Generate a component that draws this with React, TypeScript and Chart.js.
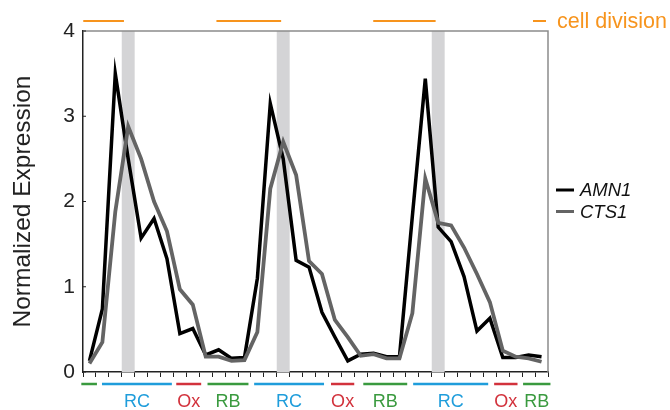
import React, { useEffect, useRef } from 'react';
import { Chart, registerables } from 'chart.js';

Chart.register(...registerables);

// ---- data ----
const timePoints = [
  '1', '2', '3', '4', '5', '6', '7', '8', '9', '10', '11', '12',
  '13', '14', '15', '16', '17', '18', '19', '20', '21', '22', '23', '24',
  '25', '26', '27', '28', '29', '30', '31', '32', '33', '34', '35', '36',
];
const amn1 = [
  0.13, 0.74, 3.5, 2.5, 1.57, 1.8, 1.33, 0.45, 0.51, 0.2, 0.26, 0.16,
  0.17, 1.1, 3.15, 2.5, 1.31, 1.23, 0.7, 0.41, 0.13, 0.21, 0.22, 0.18,
  0.18, 1.83, 3.44, 1.7, 1.53, 1.12, 0.48, 0.63, 0.17, 0.17, 0.2, 0.18,
];
const cts1 = [
  0.1, 0.35, 1.88, 2.88, 2.5, 2.0, 1.65, 0.97, 0.79, 0.18, 0.18, 0.13,
  0.14, 0.47, 2.15, 2.7, 2.31, 1.3, 1.15, 0.61, 0.41, 0.19, 0.21, 0.16,
  0.16, 0.69, 2.27, 1.75, 1.72, 1.46, 1.15, 0.82, 0.25, 0.18, 0.16, 0.12,
];
const yTicks = [0, 1, 2, 3, 4];
// category indices of the grey (division) bands
const divisionBands = [3, 15, 27];
// cell-division spans, in category-boundary units
const cellDivisionStart = [0.02, 10.33, 22.47];
const cellDivisionEnd = [3.17, 15.34, 27.3];
// metabolic phases, in category-boundary units
const phaseKind = ['RB', 'RC', 'Ox', 'RB', 'RC', 'Ox', 'RB', 'RC', 'Ox', 'RB'];
const phaseLabel = ['', 'RC', 'Ox', 'RB', 'RC', 'Ox', 'RB', 'RC', 'Ox', 'RB'];
const phaseStart = [-0.13, 1.47, 7.22, 9.64, 13.25, 19.2, 21.7, 25.56, 31.83, 34.07];
const phaseEnd = [1.08, 6.88, 9.15, 12.81, 18.66, 21.0, 25.1, 31.37, 33.64, 36.19];

// ---- styles ----
const FONT = '"Liberation Sans", Arial, Helvetica, sans-serif';
const phaseColor: Record<string, string> = { RB: '#3a9a3f', RC: '#1f9ddb', Ox: '#d2323c' };
const ORANGE = '#f7941d';
const BLACK = '#000000';
const GREY = '#646464';

const overlay = {
  id: 'overlay',
  beforeDatasetsDraw(chart: any) {
    const { ctx, chartArea, scales } = chart;
    const x = scales.x;
    ctx.save();
    ctx.fillStyle = '#d4d4d6';
    divisionBands.forEach((b) => {
      const l = x.getPixelForValue(b - 0.5);
      const r = x.getPixelForValue(b + 0.5);
      ctx.fillRect(l, chartArea.top, r - l, chartArea.bottom - chartArea.top);
    });
    ctx.restore();
  },
  afterDraw(chart: any) {
    const { ctx, chartArea, scales } = chart;
    const x = scales.x;
    const y = scales.y;
    const bx = (u: number) => x.getPixelForValue(u - 0.5);
    ctx.save();

    // top and right frame
    ctx.strokeStyle = '#8c8c8c';
    ctx.lineWidth = 1.5;
    ctx.beginPath();
    ctx.moveTo(chartArea.left, chartArea.top);
    ctx.lineTo(chartArea.right, chartArea.top);
    ctx.lineTo(chartArea.right, chartArea.bottom);
    ctx.stroke();

    // small inward y ticks
    ctx.strokeStyle = '#222';
    ctx.lineWidth = 1;
    yTicks.forEach((t) => {
      const py = y.getPixelForValue(t);
      ctx.beginPath();
      ctx.moveTo(chartArea.left, py);
      ctx.lineTo(chartArea.left + 3, py);
      ctx.stroke();
    });

    // cell division lines
    const topY = chartArea.top - 10;
    ctx.strokeStyle = ORANGE;
    ctx.lineWidth = 2;
    cellDivisionStart.forEach((s, i) => {
      ctx.beginPath();
      ctx.moveTo(bx(s), topY);
      ctx.lineTo(bx(cellDivisionEnd[i]), topY);
      ctx.stroke();
    });
    const keyX = chartArea.right - 15;
    ctx.beginPath();
    ctx.moveTo(keyX, topY);
    ctx.lineTo(keyX + 13, topY);
    ctx.stroke();
    ctx.fillStyle = ORANGE;
    ctx.font = `21.5px ${FONT}`;
    ctx.textAlign = 'left';
    ctx.textBaseline = 'middle';
    ctx.fillText('cell division', keyX + 24, topY + 1);

    // phases below axis
    const segY = chartArea.bottom + 12;
    ctx.lineWidth = 2.5;
    ctx.font = `18px ${FONT}`;
    ctx.textAlign = 'center';
    phaseStart.forEach((s, i) => {
      const c = phaseColor[phaseKind[i]];
      const l = bx(s);
      const r = bx(phaseEnd[i]);
      ctx.strokeStyle = c;
      ctx.beginPath();
      ctx.moveTo(l, segY);
      ctx.lineTo(r, segY);
      ctx.stroke();
      if (phaseLabel[i]) {
        ctx.fillStyle = c;
        ctx.fillText(phaseLabel[i], (l + r) / 2, segY + 18);
      }
    });

    // legend
    const lx = chartArea.right + 8;
    const entries: [string, string, number][] = [
      ['AMN1', BLACK, 190],
      ['CTS1', GREY, 211.5],
    ];
    ctx.font = `italic 18.5px ${FONT}`;
    ctx.textAlign = 'left';
    entries.forEach(([name, col, ly]) => {
      ctx.strokeStyle = col;
      ctx.lineWidth = 3;
      ctx.beginPath();
      ctx.moveTo(lx, ly);
      ctx.lineTo(lx + 18, ly);
      ctx.stroke();
      ctx.fillStyle = '#111';
      ctx.fillText(name, lx + 24, ly + 1);
    });

    ctx.restore();
  },
};

export default function App() {
  const ref = useRef<HTMLCanvasElement | null>(null);
  useEffect(() => {
    if (!ref.current) return;
    const chart = new Chart(ref.current, {
      type: 'line',
      data: {
        labels: timePoints,
        datasets: [
          {
            label: 'AMN1',
            data: amn1,
            borderColor: BLACK,
            borderWidth: 3.5,
            pointRadius: 0,
            tension: 0,
            borderJoinStyle: 'miter',
            fill: false,
            order: 1,
          },
          {
            label: 'CTS1',
            data: cts1,
            borderColor: GREY,
            borderWidth: 3.8,
            pointRadius: 0,
            tension: 0,
            borderJoinStyle: 'miter',
            fill: false,
            order: 0,
          },
        ],
      },
      options: {
        responsive: false,
        animation: false,
        devicePixelRatio: 1,
        layout: { padding: { left: 0, right: 122, top: 31, bottom: 0 } },
        plugins: { legend: { display: false }, tooltip: { enabled: false } },
        scales: {
          x: {
            type: 'category',
            offset: true,
            grid: {
              display: true,
              offset: true,
              drawOnChartArea: false,
              drawTicks: true,
              tickLength: 5,
              color: '#222',
              lineWidth: 1,
            },
            border: { display: true, color: '#222', width: 1.5 },
            ticks: { display: false },
            afterFit: (s: any) => {
              s.height = 38;
            },
          },
          y: {
            min: 0,
            max: 4,
            afterBuildTicks: (s: any) => {
              s.ticks = yTicks.map((v) => ({ value: v }));
            },
            grid: { display: true, drawOnChartArea: false, drawTicks: false },
            border: { display: true, color: '#222', width: 1.5 },
            ticks: {
              padding: 8,
              color: '#222',
              font: { family: FONT, size: 21 },
            },
            title: {
              display: true,
              text: 'Normalized Expression',
              color: '#222',
              font: { family: FONT, size: 24.5 },
              padding: { top: 9, bottom: 0 },
            },
            afterFit: (s: any) => {
              s.width = 83;
            },
          },
        },
      },
      plugins: [overlay],
    });
    return () => chart.destroy();
  }, []);
  return (
    <div style={{ position: 'absolute', left: 0, top: 0, width: 670, height: 410, background: '#fff' }}>
      <canvas ref={ref} width={670} height={410} style={{ display: 'block' }} />
    </div>
  );
}
